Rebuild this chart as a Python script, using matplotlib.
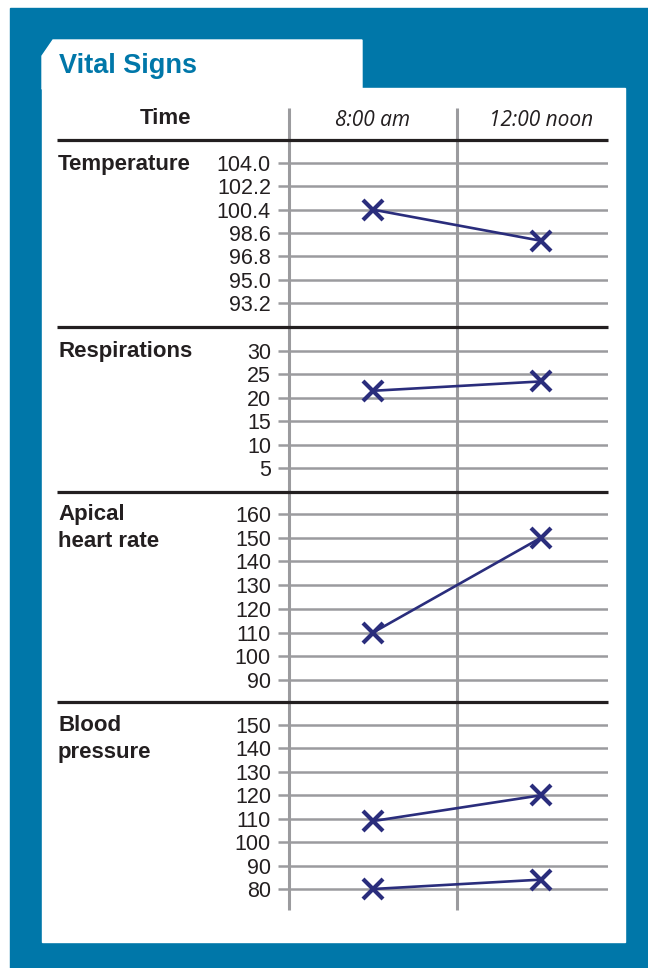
import matplotlib.pyplot as plt
from matplotlib.patches import Rectangle, Polygon

# chart values
times = ["8:00 am", "12:00 noon"]

temp_ticks = [104.0, 102.2, 100.4, 98.6, 96.8, 95.0, 93.2]
temp_values = [100.4, 98.0]

resp_ticks = [30, 25, 20, 15, 10, 5]
resp_values = [21.5, 23.5]

heart_ticks = [160, 150, 140, 130, 120, 110, 100, 90]
heart_values = [110, 150]

bp_ticks = [150, 140, 130, 120, 110, 100, 90, 80]
bp_systolic = [109, 120]
bp_diastolic = [80, 84]

sections = [
    ("Temperature", temp_ticks, [temp_values], 163, 303),
    ("Respirations", resp_ticks, [resp_values], 351, 468),
    ("Apical\nheart rate", heart_ticks, [heart_values], 514, 680),
    ("Blood\npressure", bp_ticks, [bp_systolic, bp_diastolic], 725, 889),
]

W, H = 648, 968
BLUE = "#0077a9"
INK = "#2a2d7c"
GRID = "#9b9b9e"
DARK = "#231f20"

plt.rcParams['font.family'] = ['Liberation Sans', 'DejaVu Sans']

fig = plt.figure(figsize=(W / 100, H / 100), dpi=100)

# background layer in pixel coordinates
bg = fig.add_axes([0, 0, 1, 1])
bg.set_xlim(0, W)
bg.set_ylim(H, 0)
bg.axis("off")

bg.add_patch(Rectangle((10, 8), W - 10, H - 8, color=BLUE, zorder=0))
bg.add_patch(Rectangle((42, 88), 583, 854, color="white", zorder=1))
bg.add_patch(Polygon([(42, 89), (42, 56), (53, 40), (362, 40), (362, 89)],
                     closed=True, color="white", zorder=1))
bg.text(59, 66, "Vital Signs", color=BLUE, fontsize=19.5, fontweight="bold",
        va="center", ha="left", zorder=3)

# column rules
col_left, col_mid, col_right = 289, 457, 625
for x in (col_left, col_mid):
    bg.plot([x, x], [108, 910], color=GRID, lw=2.2, zorder=2,
            solid_capstyle="butt")

# header row
bg.text(166, 118, "Time", fontsize=16, fontweight="bold", color=DARK,
        ha="center", va="center", zorder=3)
for i, t in enumerate(times):
    cx = col_left + (i + 0.5) * (col_mid - col_left)
    bg.text(cx, 120, t, fontsize=15, fontfamily=["Open Sans", "DejaVu Sans"],
            fontstyle="italic", color=DARK, ha="center", va="center", zorder=3)

# row separators
for y in (140, 327, 492, 702):
    bg.plot([57, 608], [y, y], color=DARK, lw=2.3, zorder=3,
            solid_capstyle="butt")

# section label positions (top of text)
label_tops = [154, 341, 504, 715]

col_w = col_mid - col_left
grid_right = 608
pad = 4  # px of room so the outer grid lines are not clipped
for (name, ticks, series, y_top, y_bot), ltop in zip(sections, label_tops):
    per_px = (max(ticks) - min(ticks)) / (y_bot - y_top)
    ax = fig.add_axes([col_left / W, 1 - (y_bot + pad) / H,
                       (grid_right - col_left) / W,
                       (y_bot - y_top + 2 * pad) / H])
    ax.patch.set_visible(False)
    ax.set_xlim(0, (grid_right - col_left) / col_w)
    ax.set_ylim(min(ticks) - pad * per_px, max(ticks) + pad * per_px)
    for s in ax.spines.values():
        s.set_visible(False)
    ax.set_xticks([])
    ax.set_yticks(ticks)
    ax.set_yticklabels([f"{t:.1f}" if isinstance(t, float) else str(t)
                        for t in ticks])
    ax.tick_params(axis="y", length=8, width=1.8, color=GRID, pad=5,
                   labelsize=15.5, labelcolor=DARK)
    ax.yaxis.grid(True, color=GRID, lw=1.8)
    ax.set_axisbelow(True)
    for vals in series:
        ax.plot([0.5, 1.5], vals, color=INK, lw=1.9, marker="x",
                markersize=15, markeredgewidth=3, clip_on=False, zorder=5)

    bg.text(58, ltop, name, fontsize=16, fontweight="bold", color=DARK,
            ha="left", va="top", linespacing=1.4, zorder=3)

fig.savefig("out.png", dpi=100)
